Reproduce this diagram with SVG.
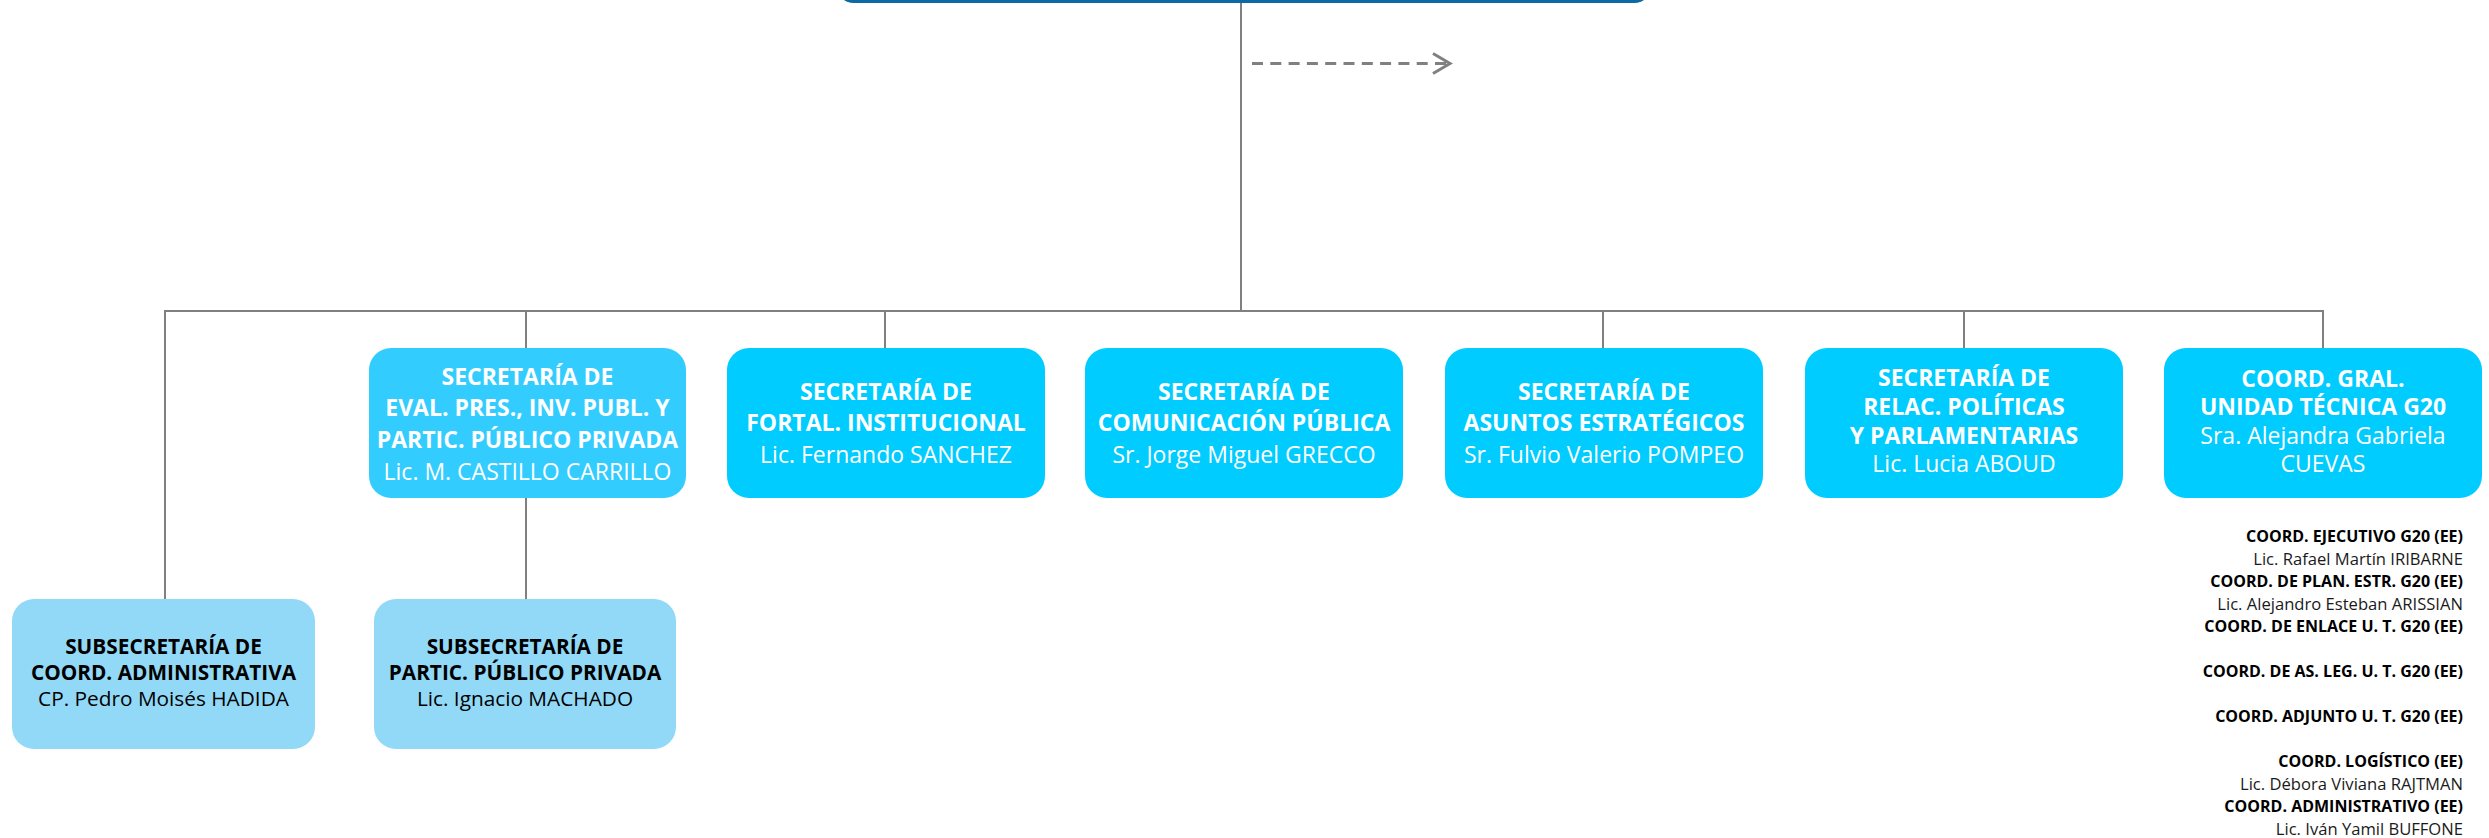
<svg xmlns="http://www.w3.org/2000/svg" width="2489" height="838" viewBox="0 0 2489 838">
<defs>
<style>
.conn{stroke:#808080;stroke-width:2;fill:none}
.dash{stroke:#808080;stroke-width:3;fill:none;stroke-dasharray:11 7.3}
.head{stroke:#808080;stroke-width:3;fill:none}
.top{fill:#0B69A3}
.sec{fill:#00CCFF}
.sec2{fill:#33CCFF}
.sub{fill:#92D9F7}
text{font-family:"Open Sans","Liberation Sans",sans-serif}
.w{fill:#FFFFFF;font-size:23px;text-anchor:middle}
.k{fill:#000000;font-size:20.8px;text-anchor:middle}
.b{font-weight:bold}
.lb{fill:#000000;font-size:16px;font-weight:bold;text-anchor:end}
.lr{fill:#1a1a1a;font-size:16.6px;text-anchor:end}
</style>
</defs>
<rect width="2489" height="838" fill="#FFFFFF"/>
<g id="connectors">
<line class="conn" x1="1241" y1="3" x2="1241" y2="311"/>
<line class="conn" x1="164" y1="311" x2="2324" y2="311"/>
<line class="conn" x1="165" y1="311" x2="165" y2="599"/>
<line class="conn" x1="526" y1="311" x2="526" y2="348"/>
<line class="conn" x1="526" y1="498" x2="526" y2="599"/>
<line class="conn" x1="885" y1="311" x2="885" y2="348"/>
<line class="conn" x1="1603" y1="311" x2="1603" y2="348"/>
<line class="conn" x1="1964" y1="311" x2="1964" y2="348"/>
<line class="conn" x1="2323" y1="311" x2="2323" y2="348"/>
<line class="dash" x1="1252" y1="63.5" x2="1446" y2="63.5"/>
<polyline class="head" points="1433,53.5 1450,63.5 1433,73.5"/>
</g>
<g id="node-top">
<rect class="top" x="836" y="-60" width="816" height="63" rx="18"/>
</g>
<g id="node-eval">
<rect class="sec2" x="369" y="348" width="317" height="150" rx="22"/>
<text class="w b" x="527.5" y="385">SECRETARÍA DE</text>
<text class="w b" x="527.5" y="416">EVAL. PRES., INV. PUBL. Y</text>
<text class="w b" x="527.5" y="448">PARTIC. PÚBLICO PRIVADA</text>
<text class="w" x="527.5" y="480">Lic. M. CASTILLO CARRILLO</text>
</g>
<g id="node-fortal">
<rect class="sec" x="727" y="348" width="318" height="150" rx="22"/>
<text class="w b" x="886" y="400">SECRETARÍA DE</text>
<text class="w b" x="886" y="431">FORTAL. INSTITUCIONAL</text>
<text class="w" x="886" y="463">Lic. Fernando SANCHEZ</text>
</g>
<g id="node-comunicacion">
<rect class="sec" x="1085" y="348" width="318" height="150" rx="22"/>
<text class="w b" x="1244" y="400">SECRETARÍA DE</text>
<text class="w b" x="1244" y="431">COMUNICACIÓN PÚBLICA</text>
<text class="w" x="1244" y="463">Sr. Jorge Miguel GRECCO</text>
</g>
<g id="node-asuntos">
<rect class="sec" x="1445" y="348" width="318" height="150" rx="22"/>
<text class="w b" x="1604" y="400">SECRETARÍA DE</text>
<text class="w b" x="1604" y="431">ASUNTOS ESTRATÉGICOS</text>
<text class="w" x="1604" y="463">Sr. Fulvio Valerio POMPEO</text>
</g>
<g id="node-relac">
<rect class="sec" x="1805" y="348" width="318" height="150" rx="22"/>
<text class="w b" x="1964" y="386">SECRETARÍA DE</text>
<text class="w b" x="1964" y="415">RELAC. POLÍTICAS</text>
<text class="w b" x="1964" y="444">Y PARLAMENTARIAS</text>
<text class="w" x="1964" y="472">Lic. Lucia ABOUD</text>
</g>
<g id="node-g20">
<rect class="sec" x="2164" y="348" width="318" height="150" rx="22"/>
<text class="w b" x="2323" y="387">COORD. GRAL.</text>
<text class="w b" x="2323" y="415">UNIDAD TÉCNICA G20</text>
<text class="w" x="2323" y="444">Sra. Alejandra Gabriela</text>
<text class="w" x="2323" y="472">CUEVAS</text>
</g>
<g id="node-sub-admin">
<rect class="sub" x="12" y="599" width="303" height="150" rx="22"/>
<text class="k b" x="163.5" y="654">SUBSECRETARÍA DE</text>
<text class="k b" x="163.5" y="680">COORD. ADMINISTRATIVA</text>
<text class="k" x="163.5" y="706">CP. Pedro Moisés HADIDA</text>
</g>
<g id="node-sub-ppp">
<rect class="sub" x="374" y="599" width="302" height="150" rx="22"/>
<text class="k b" x="525" y="654">SUBSECRETARÍA DE</text>
<text class="k b" x="525" y="680">PARTIC. PÚBLICO PRIVADA</text>
<text class="k" x="525" y="706">Lic. Ignacio MACHADO</text>
</g>
<g id="node-g20-list">
<text class="lb" x="2463" y="542">COORD. EJECUTIVO G20 (EE)</text>
<text class="lr" x="2463" y="564.5">Lic. Rafael Martín IRIBARNE</text>
<text class="lb" x="2463" y="587">COORD. DE PLAN. ESTR. G20 (EE)</text>
<text class="lr" x="2463" y="609.5">Lic. Alejandro Esteban ARISSIAN</text>
<text class="lb" x="2463" y="632">COORD. DE ENLACE U. T. G20 (EE)</text>
<text class="lb" x="2463" y="677">COORD. DE AS. LEG. U. T. G20 (EE)</text>
<text class="lb" x="2463" y="722">COORD. ADJUNTO U. T. G20 (EE)</text>
<text class="lb" x="2463" y="767">COORD. LOGÍSTICO (EE)</text>
<text class="lr" x="2463" y="789.5">Lic. Débora Viviana RAJTMAN</text>
<text class="lb" x="2463" y="812">COORD. ADMINISTRATIVO (EE)</text>
<text class="lr" x="2463" y="834.5">Lic. Iván Yamil BUFFONE</text>
</g>
</svg>
